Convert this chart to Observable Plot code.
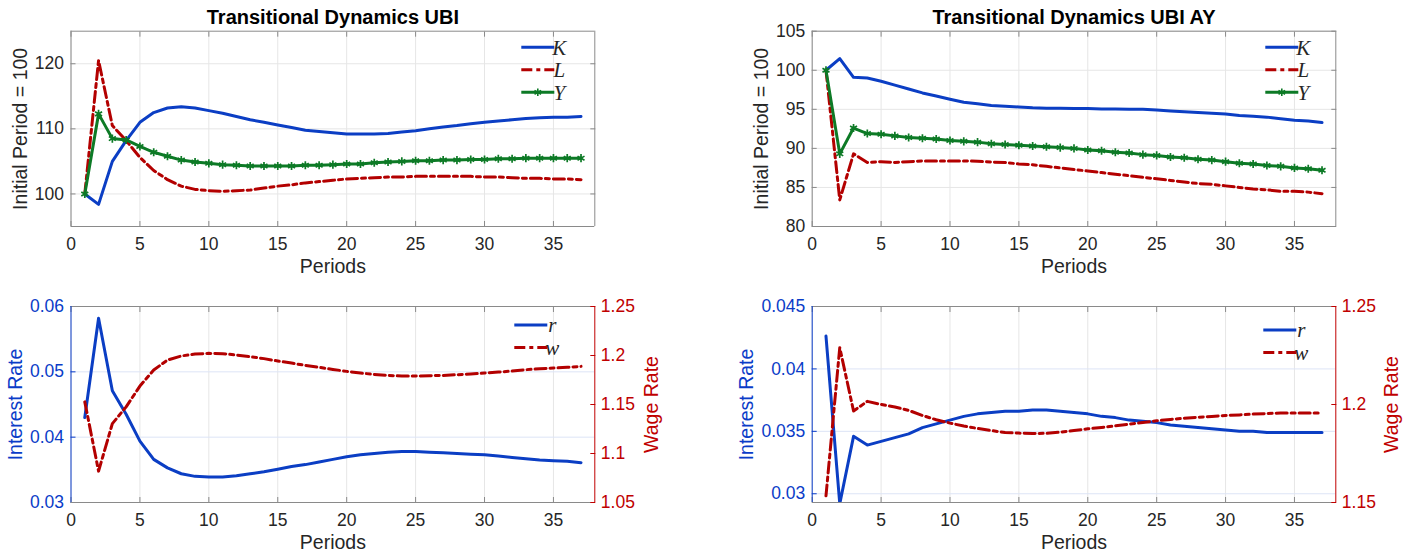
<!DOCTYPE html>
<html><head><meta charset="utf-8">
<script src="https://cdn.jsdelivr.net/npm/d3@7"></script>
<script src="https://cdn.jsdelivr.net/npm/@observablehq/plot@0.6"></script>
<style>
body{margin:0;background:#fff;}
#wrap{position:relative;width:1414px;height:556px;overflow:hidden;background:#fff;}
#wrap svg{position:absolute;}
</style></head><body><div id="wrap"></div>
<script>
// ---------- data ----------
const periods = [1,2,3,4,5,6,7,8,9,10,11,12,13,14,15,16,17,18,19,20,21,22,23,24,25,26,27,28,29,30,31,32,33,34,35,36,37];
const xTicks = [0,5,10,15,20,25,30,35];

// Transitional Dynamics UBI (index, initial period = 100)
const ubiK = [100,98.4,105.0,108.2,111.0,112.5,113.2,113.4,113.2,112.8,112.4,111.9,111.4,111.0,110.6,110.2,109.8,109.6,109.4,109.2,109.2,109.2,109.3,109.5,109.7,110.0,110.3,110.5,110.8,111.0,111.2,111.4,111.6,111.7,111.8,111.8,111.9];
const ubiL = [100,120.5,110.5,108.2,105.6,103.6,102.2,101.2,100.7,100.5,100.4,100.5,100.6,100.9,101.2,101.4,101.7,101.9,102.1,102.3,102.4,102.5,102.6,102.6,102.7,102.7,102.7,102.7,102.7,102.6,102.6,102.5,102.4,102.4,102.3,102.3,102.2];
const ubiY = [100,112.3,108.5,108.3,107.3,106.4,105.8,105.2,104.9,104.7,104.5,104.4,104.3,104.3,104.3,104.3,104.4,104.4,104.5,104.6,104.6,104.8,104.9,105.0,105.1,105.1,105.2,105.2,105.3,105.3,105.4,105.4,105.5,105.5,105.5,105.5,105.5];

// Transitional Dynamics UBI AY
const ayK = [100,101.5,99.1,99.0,98.6,98.1,97.6,97.1,96.7,96.3,95.9,95.7,95.5,95.4,95.3,95.2,95.15,95.15,95.1,95.1,95.05,95.05,95.0,95.0,94.9,94.8,94.7,94.6,94.5,94.4,94.2,94.1,94.0,93.8,93.6,93.5,93.3];
const ayL = [100,83.4,89.3,88.2,88.3,88.2,88.3,88.4,88.4,88.4,88.4,88.35,88.25,88.2,88.0,87.9,87.7,87.5,87.3,87.1,86.9,86.7,86.5,86.3,86.1,85.9,85.7,85.5,85.4,85.2,85.0,84.8,84.7,84.5,84.5,84.4,84.2];
const ayY = [100,89.3,92.6,91.9,91.8,91.6,91.4,91.3,91.2,91.0,90.9,90.8,90.6,90.5,90.4,90.3,90.2,90.1,90.0,89.8,89.7,89.5,89.4,89.2,89.1,88.9,88.8,88.6,88.5,88.3,88.1,88.0,87.8,87.7,87.5,87.4,87.2];

// Prices UBI
const ubiR = [0.0430,0.0582,0.0471,0.0435,0.0394,0.0366,0.0353,0.0344,0.0340,0.0339,0.0339,0.0341,0.0344,0.0347,0.0351,0.0355,0.0358,0.0362,0.0366,0.0370,0.0373,0.0375,0.0377,0.0378,0.0378,0.0377,0.0376,0.0375,0.0374,0.0373,0.0371,0.0369,0.0367,0.0365,0.0364,0.0363,0.0361];
const ubiW = [1.1527,1.082,1.1305,1.1476,1.1688,1.1852,1.1954,1.1995,1.2015,1.2022,1.2019,1.2005,1.1988,1.1968,1.1944,1.1923,1.1899,1.1879,1.1858,1.1838,1.1821,1.1807,1.1797,1.179,1.179,1.1794,1.1797,1.1804,1.1811,1.1821,1.1831,1.1841,1.1855,1.1865,1.1872,1.1879,1.1889];

// Prices UBI AY
const ayR = [0.04263,0.0292,0.0346,0.0339,0.0342,0.0345,0.0348,0.0353,0.0356,0.0359,0.0362,0.0364,0.0365,0.0366,0.0366,0.0367,0.0367,0.0366,0.0365,0.0364,0.0362,0.0361,0.0359,0.0358,0.0357,0.0355,0.0354,0.0353,0.0352,0.0351,0.0350,0.0350,0.0349,0.0349,0.0349,0.0349,0.0349];
const ayW = [1.1534,1.229,1.1967,1.2016,1.2,1.1987,1.197,1.1944,1.1922,1.1905,1.189,1.1878,1.1867,1.1857,1.1854,1.1852,1.1853,1.1859,1.1867,1.1876,1.1883,1.1891,1.19,1.1908,1.1917,1.1924,1.193,1.1935,1.1939,1.1944,1.1947,1.1951,1.1954,1.1956,1.1956,1.1956,1.1956];

const titles = ["Transitional Dynamics UBI", "Transitional Dynamics UBI AY"];
const yLabelTop = "Initial Period = 100";
const xLabel = "Periods";
const rLabel = "Interest Rate";
const wLabel = "Wage Rate";
const idxTicksL = [100,110,120];
const idxTicksR = [80,85,90,95,100,105];
const rTicksL = [0.03,0.04,0.05,0.06];
const wTicksL = [1.05,1.1,1.15,1.2,1.25];
const rTicksR = [0.03,0.035,0.04,0.045];
const wTicksR = [1.15,1.2,1.25];

// ---------- styling ----------
const BLUE = "#0b3ec4", RED = "#b30000", GREEN = "#0d7a26";
const AXBLUE = "#0a3cc8", AXRED = "#c00000";
const TXT = "#262626", FRAME = "#8a8a8a", GRID = "#e6e6e6";
const FONT = "'Liberation Sans', Arial, Helvetica, sans-serif";
const TICKFS = 17.5, LABFS = 19.5;
const DASHDOT = "11,4,4,4";
const W = 707, H = 278;
const wrap = document.getElementById("wrap");

function place(svg, left, top) {
  svg.style.left = left + "px";
  svg.style.top = top + "px";
  wrap.appendChild(svg);
  return svg;
}

function legend(svg, x1, x2, y0, items) {
  const g = d3.select(svg).append("g");
  items.forEach((it, i) => {
    const y = y0 + i * 22.5;
    g.append("line").attr("x1", x1).attr("x2", x2).attr("y1", y).attr("y2", y)
      .attr("stroke", it.color).attr("stroke-width", 3).attr("stroke-dasharray", it.dash || null);
    if (it.marker) {
      g.append("path").attr("transform", `translate(${(x1 + x2) / 2},${y})`)
        .attr("d", d3.symbol(d3.symbolAsterisk, 40)()).attr("stroke", it.color).attr("stroke-width", 1.6).attr("fill", "none");
    }
    g.append("text").attr("x", x2 + 5).attr("y", y).attr("dy", "0.35em")
      .attr("font-family", "'Liberation Serif', 'DejaVu Serif', serif").attr("font-style", "italic")
      .attr("font-size", 21).attr("fill", TXT).text(it.label);
  });
}

function frameRules(xd, yd, leftColor, rightColor) {
  return [
    Plot.ruleY([yd[0], yd[1]], {stroke: FRAME, strokeWidth: 1}),
    Plot.ruleX([xd[0]], {stroke: leftColor, strokeWidth: 1}),
    Plot.ruleX([xd[1]], {stroke: rightColor, strokeWidth: 1})
  ];
}

// ---------- top panels (index levels) ----------
function topPanel({ml, mr, yDomain, yTicks, K, L, Y, title, left, lgX}) {
  const xd = [0, 38];
  const svg = Plot.plot({
    width: W, height: H, marginLeft: ml, marginRight: mr, marginTop: 30.7, marginBottom: 52,
    style: {fontFamily: FONT, background: "transparent", overflow: "visible"},
    x: {domain: xd}, y: {domain: yDomain},
    marks: [
      Plot.gridX(xTicks, {stroke: GRID, strokeOpacity: 1}),
      Plot.gridY(yTicks, {stroke: GRID, strokeOpacity: 1}),
      Plot.axisX(xTicks, {tickSize: 0, tickPadding: 11, fontSize: TICKFS, color: TXT, label: null}),
      Plot.axisX(xTicks, {anchor: "bottom", tickSize: -5, tickFormat: () => "", stroke: FRAME, label: null}),
      Plot.axisX(xTicks, {anchor: "top", tickSize: -5, tickFormat: () => "", stroke: FRAME, label: null}),
      Plot.axisY(yTicks, {tickSize: 0, tickPadding: 7, fontSize: TICKFS, color: TXT, label: null}),
      Plot.axisY(yTicks, {anchor: "left", tickSize: -5, tickFormat: () => "", stroke: FRAME, label: null}),
      Plot.axisY(yTicks, {anchor: "right", tickSize: -5, tickFormat: () => "", stroke: FRAME, label: null}),
      ...frameRules(xd, yDomain, FRAME, FRAME),
      Plot.line(periods, {x: periods, y: K, stroke: BLUE, strokeWidth: 3, clip: true}),
      Plot.line(periods, {x: periods, y: L, stroke: RED, strokeWidth: 3, strokeDasharray: DASHDOT, clip: true}),
      Plot.line(periods, {x: periods, y: Y, stroke: GREEN, strokeWidth: 3, clip: true}),
      Plot.dot(periods, {x: periods, y: Y, symbol: "asterisk", r: 3.8, stroke: GREEN, strokeWidth: 1.7, clip: true}),
      Plot.text([title], {frameAnchor: "top", dy: -21, fontWeight: "bold", fontSize: 20, fill: "#000"}),
      Plot.text([xLabel], {frameAnchor: "bottom", dy: 46, fontSize: LABFS, fill: TXT}),
      Plot.text([yLabelTop], {frameAnchor: "left", rotate: -90, textAnchor: "middle", dx: -50, fontSize: LABFS, fill: TXT})
    ]
  });
  place(svg, left, 0);
  const fr = W - mr;
  legend(svg, fr + lgX, fr + lgX + 33, 30.7 + 16.6, [
    {label: "K", color: BLUE},
    {label: "L", color: RED, dash: DASHDOT},
    {label: "Y", color: GREEN, marker: true}
  ]);
}

topPanel({ml: 70.5, mr: 112.7, yDomain: [95, 125], yTicks: idxTicksL, K: ubiK, L: ubiL, Y: ubiY, title: titles[0], left: 0, lgX: -73});
topPanel({ml: 104.7, mr: 78.7, yDomain: [80, 105], yTicks: idxTicksR, K: ayK, L: ayL, Y: ayY, title: titles[1], left: 707, lgX: -70});

// ---------- bottom panels (prices, two y axes) ----------
function bottomPanel({ml, mr, rDomain, rTicks, wDomain, wTicks, R, Wg, left, lgX, lgY, rLabDx, wLabDx}) {
  const xd = [0, 38];
  const common = {width: W, height: H, marginLeft: ml, marginRight: mr, marginTop: 28, marginBottom: 54,
    style: {fontFamily: FONT, background: "transparent", overflow: "visible"}};
  const svgR = Plot.plot({
    ...common,
    x: {domain: xd},
    y: {domain: rDomain},
    marks: [
      Plot.gridX(xTicks, {stroke: GRID, strokeOpacity: 1}),
      Plot.gridY(rTicks, {stroke: "#dde4f6", strokeOpacity: 1}),
      Plot.axisX(xTicks, {tickSize: 0, tickPadding: 11, fontSize: TICKFS, color: TXT, label: null}),
      Plot.axisX(xTicks, {anchor: "bottom", tickSize: -5, tickFormat: () => "", stroke: FRAME, label: null}),
      Plot.axisX(xTicks, {anchor: "top", tickSize: -5, tickFormat: () => "", stroke: FRAME, label: null}),
      Plot.axisY(rTicks, {tickSize: 0, tickPadding: 7, fontSize: TICKFS, color: AXBLUE, label: null, tickFormat: d => String(d)}),
      Plot.axisY(rTicks, {anchor: "left", tickSize: -5, tickFormat: () => "", stroke: AXBLUE, label: null}),
      ...frameRules(xd, rDomain, AXBLUE, AXRED),
      Plot.line(periods, {x: periods, y: R, stroke: BLUE, strokeWidth: 3, clip: true}),
      Plot.text([xLabel], {frameAnchor: "bottom", dy: 46, fontSize: LABFS, fill: TXT}),
      Plot.text([rLabel], {frameAnchor: "left", rotate: -90, textAnchor: "middle", dx: rLabDx, fontSize: LABFS, fill: AXBLUE})
    ]
  });
  place(svgR, left, 278);
  const svgW = Plot.plot({
    ...common,
    x: {domain: xd, axis: null},
    y: {domain: wDomain},
    marks: [
      Plot.axisY(wTicks, {anchor: "right", tickSize: 0, tickPadding: 6, fontSize: TICKFS, color: AXRED, label: null, tickFormat: d => String(d)}),
      Plot.axisY(wTicks, {anchor: "right", tickSize: -5, tickFormat: () => "", stroke: AXRED, label: null}),
      Plot.line(periods, {x: periods, y: Wg, stroke: RED, strokeWidth: 3, strokeDasharray: DASHDOT, clip: true}),
      Plot.text([wLabel], {frameAnchor: "right", rotate: -90, textAnchor: "middle", dx: wLabDx, fontSize: LABFS, fill: AXRED})
    ]
  });
  place(svgW, left, 278);
  const fr = W - mr;
  legend(svgW, fr + lgX, fr + lgX + 33, 28 + lgY, [
    {label: "r", color: BLUE},
    {label: "w", color: RED, dash: DASHDOT}
  ]);
}

bottomPanel({ml: 70.5, mr: 112.7, rDomain: [0.03, 0.06], rTicks: rTicksL, wDomain: [1.05, 1.25], wTicks: wTicksL,
  R: ubiR, Wg: ubiW, left: 0, lgX: -80, lgY: 19, rLabDx: -55, wLabDx: 57});
bottomPanel({ml: 104.7, mr: 78.7, rDomain: [0.0293, 0.045], rTicks: rTicksR, wDomain: [1.15, 1.25], wTicks: wTicksR,
  R: ayR, Wg: ayW, left: 707, lgX: -72, lgY: 24, rLabDx: -65, wLabDx: 56});
</script>
</body></html>
